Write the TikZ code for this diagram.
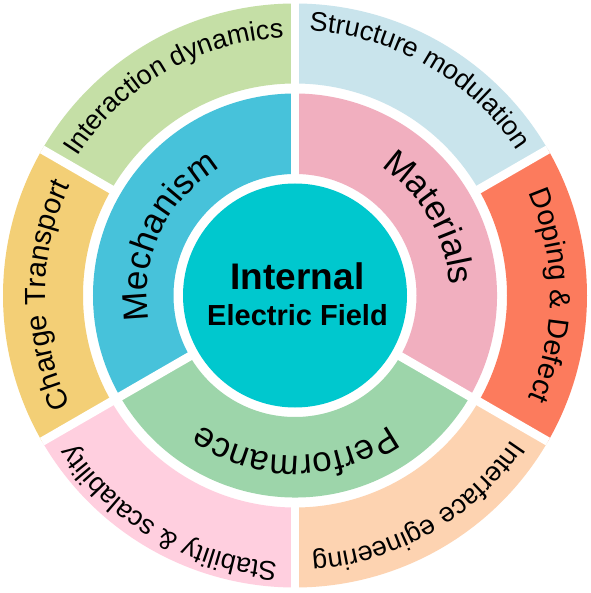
\documentclass[tikz,border=0pt]{standalone}
\usepackage{fontspec}
\setmainfont{Liberation Sans}
\usetikzlibrary{decorations.text}

\definecolor{interactgreen}{HTML}{C5DFA6}
\definecolor{structblue}{HTML}{C9E4EC}
\definecolor{dopingred}{HTML}{FC7B5D}
\definecolor{interfacepeach}{HTML}{FDD3B1}
\definecolor{stabilitypink}{HTML}{FFCFDF}
\definecolor{chargeyellow}{HTML}{F3CF76}
\definecolor{mechblue}{HTML}{47C2DA}
\definecolor{matpink}{HTML}{F1AFBF}
\definecolor{perfgreen}{HTML}{9DD5AA}
\definecolor{corecyan}{HTML}{00C8CE}

\newcommand{\outerfont}{\fontsize{13.5}{16}\selectfont}
\newcommand{\widefont}{\fontsize{14.5}{17}\selectfont}
\newcommand{\innerfont}{\fontsize{17.5}{20}\selectfont}

% annular sector: colour, from angle, to angle, inner radius, outer radius
\newcommand{\ringsector}[5]{%
  \fill[#1] (#2:#4) arc[start angle=#2, end angle=#3, radius=#4]
    -- (#3:#5) arc[start angle=#3, end angle=#2, radius=#5] -- cycle;}
% text along an arc, read clockwise: from angle, to angle, radius, text
\newcommand{\ringlabel}[4]{%
  \path[decorate, decoration={text along path, text align=center, text={#4}}]
    (#1:#3) arc[start angle=#1, end angle=#2, radius=#3];}

\tikzset{
  gapline/.style={white, line width=4.3pt},
  corelabel/.style={anchor=base, font=\bfseries, inner sep=0pt},
}

\begin{document}
\begin{tikzpicture}[x=0.5pt, y=0.5pt]
    % Fix the frame of the picture
    \useasboundingbox[fill=white] (-295,-297.5) rectangle (295,295.5);

    % Outer ring
    \ringsector{structblue}{90}{30}{212}{292}
    \ringsector{dopingred}{30}{-30}{212}{292}
    \ringsector{interfacepeach}{-30}{-90}{212}{292}
    \ringsector{stabilitypink}{-90}{-150}{212}{292}
    \ringsector{chargeyellow}{210}{150}{212}{292}
    \ringsector{interactgreen}{150}{90}{212}{292}

    % Inner ring
    \ringsector{mechblue}{210}{90}{121.5}{202}
    \ringsector{matpink}{90}{-30}{121.5}{202}
    \ringsector{perfgreen}{-30}{-150}{121.5}{202}

    % White gaps between the sectors
    \foreach \a in {90,210,330}
        \draw[gapline] (0,0) -- (\a:292);
    \foreach \a in {30,150,270}
        \draw[gapline] (\a:207) -- (\a:292);

    % Core circle
    \node[circle, fill=corecyan, minimum size=112pt, inner sep=0pt] (core) at (0,0) {};
    \node[corelabel, font=\bfseries\fontsize{18.5}{22}\selectfont] (internal) at (2.5,6.2) {Internal};
    \node[corelabel, font=\bfseries\fontsize{14.5}{17}\selectfont] (field) at (2.5,-30.5) {Electric Field};

    % Outer labels
    \ringlabel{150}{90}{258}{|\outerfont|Interaction dynamics}
    \ringlabel{90}{30}{265}{|\outerfont|Structure modulation}
    \ringlabel{30}{-30}{255}{|\widefont|Doping {\&} Defect}
    \ringlabel{-30}{-90}{260}{|\outerfont|Interface egineering}
    \ringlabel{-90}{-150}{267}{|\outerfont|Stability {\&} scalability}
    \ringlabel{210}{150}{250}{|\widefont|Charge Transport}

    % Inner labels
    \ringlabel{215}{95}{148}{|\innerfont|Mechanism}
    \ringlabel{90}{-30}{155}{|\innerfont|Materials}
    \ringlabel{-30}{-150}{160}{|\innerfont|Performance}
\end{tikzpicture}
\end{document}
